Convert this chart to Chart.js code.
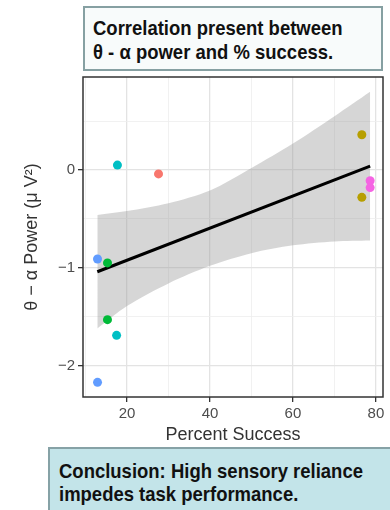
<!DOCTYPE html>
<html>
<head>
<meta charset="utf-8">
<script src="https://cdn.jsdelivr.net/npm/chart.js@4.4.1/dist/chart.umd.min.js"></script>
<style>
  html, body { margin: 0; padding: 0; background: #fff; }
  body { width: 390px; height: 510px; position: relative; overflow: hidden; font-family: "Liberation Sans", Arial, sans-serif; }
  #chart { position: absolute; left: 0; top: 0; }
  .box { position: absolute; box-sizing: border-box; font-weight: bold; font-size: 21px; color: #111; white-space: nowrap; }
  .box .txt { transform: scaleX(0.88); transform-origin: left top; }
  #topBox { left: 83px; top: 6px; width: 300px; height: 65px; border: 2px solid #86a0a2; background: #f8fbfb; padding: 8px 0 0 8px; line-height: 24px; }
  #bottomBox { left: 48px; top: 447px; width: 360px; height: 80px; border: 2px solid #86a2a6; border-right: none; background: #c3e4e9; padding: 10px 0 0 9px; line-height: 23px; }
</style>
</head>
<body>
<canvas id="chart" width="390" height="510"></canvas>
<div class="box" id="topBox"><div class="txt">Correlation present between<br>θ - α power and % success.</div></div>
<div class="box" id="bottomBox"><div class="txt">Conclusion: High sensory reliance<br>impedes task performance.</div></div>
<script>
// one entry per subject
const subjects = ['S1', 'S2', 'S3', 'S4', 'S5', 'S6'];
const successPct = [[27.6], [76.6, 76.6], [15.3, 15.3], [17.7, 17.5], [12.9, 12.9], [78.6, 78.6]];
const thetaAlpha = [[-0.04], [0.36, -0.28], [-0.95, -1.53], [0.05, -1.69], [-0.91, -2.17], [-0.11, -0.18]];

// linear fit and its confidence band
const fitX = [12.85, 78.6];
const fitY = [-1.04, 0.04];
const bandX = [12.85, 20, 30, 40, 50, 60, 70, 78.6];
const bandLow = [-1.62, -1.39, -1.16, -0.98, -0.85, -0.77, -0.73, -0.72];
const bandHigh = [-0.46, -0.42, -0.34, -0.21, 0.02, 0.27, 0.55, 0.80];

const xTicks = [20, 40, 60, 80];
const yTicks = [-2, -1, 0];

const palette = ['#F8766D', '#B79F00', '#00BA38', '#00BFC4', '#619CFF', '#F564E3'];

const pointSets = subjects.map((s, i) => ({
    type: 'scatter',
    label: s,
    data: successPct[i].map((x, j) => ({x: x, y: thetaAlpha[i][j]})),
    backgroundColor: palette[i],
    borderWidth: 0,
    pointRadius: 4.5,
    order: 1
}));

const fitLine = {
    type: 'line',
    label: 'fit',
    data: fitX.map((x, i) => ({x: x, y: fitY[i]})),
    borderColor: '#000',
    borderWidth: 3,
    pointRadius: 0,
    fill: false,
    order: 2
};

const bandUpper = {
    type: 'line',
    label: 'upper',
    data: bandX.map((x, i) => ({x: x, y: bandHigh[i]})),
    borderWidth: 0,
    borderColor: 'rgba(0,0,0,0)',
    backgroundColor: 'rgba(153,153,153,0.4)',
    pointRadius: 0,
    tension: 0.3,
    fill: '+1',
    order: 3
};

const bandLower = {
    type: 'line',
    label: 'lower',
    data: bandX.map((x, i) => ({x: x, y: bandLow[i]})),
    borderWidth: 0,
    borderColor: 'rgba(0,0,0,0)',
    pointRadius: 0,
    tension: 0.3,
    fill: false,
    order: 4
};

// panel border all round
const panelBorder = {
    id: 'panelBorder',
    afterDraw(chart) {
        const a = chart.chartArea;
        const c = chart.ctx;
        c.save();
        c.strokeStyle = '#333';
        c.lineWidth = 1.5;
        c.strokeRect(a.left, a.top, a.right - a.left, a.bottom - a.top);
        c.restore();
    }
};

const gridColor = (isMajor) => isMajor ? '#e3e3e3' : '#eeeeee';

new Chart(document.getElementById('chart'), {
    type: 'scatter',
    data: {datasets: [...pointSets, fitLine, bandUpper, bandLower]},
    plugins: [panelBorder],
    options: {
        responsive: false,
        animation: false,
        devicePixelRatio: 1,
        events: [],
        layout: {padding: {left: 0, right: 7, top: 77, bottom: 63}},
        plugins: {legend: {display: false}, tooltip: {enabled: false}},
        scales: {
            x: {
                type: 'linear',
                min: 9.4,
                max: 81.7,
                afterFit: (s) => { s.height = 50; },
                border: {display: false},
                grid: {
                    color: (c) => gridColor(xTicks.includes(c.tick && c.tick.value)),
                    lineWidth: (c) => xTicks.includes(c.tick && c.tick.value) ? 1.3 : 0.8,
                    tickColor: (c) => xTicks.includes(c.tick && c.tick.value) ? '#333' : 'rgba(0,0,0,0)',
                    tickLength: 5,
                    tickWidth: 1.3
                },
                ticks: {
                    stepSize: 10,
                    includeBounds: false,
                    autoSkip: false,
                    maxRotation: 0,
                    padding: 3,
                    color: '#4d4d4d',
                    font: {family: 'Liberation Sans', size: 15},
                    callback: (v) => xTicks.includes(v) ? String(v) : ''
                },
                title: {
                    display: true,
                    text: 'Percent Success',
                    color: '#333',
                    font: {family: 'Liberation Sans', size: 18},
                    padding: {top: 0, bottom: 1}
                }
            },
            y: {
                type: 'linear',
                min: -2.32,
                max: 0.95,
                afterFit: (s) => { s.width = 83; },
                border: {display: false},
                grid: {
                    color: (c) => gridColor(yTicks.includes(c.tick && c.tick.value)),
                    lineWidth: (c) => yTicks.includes(c.tick && c.tick.value) ? 1.3 : 0.8,
                    tickColor: (c) => yTicks.includes(c.tick && c.tick.value) ? '#333' : 'rgba(0,0,0,0)',
                    tickLength: 5,
                    tickWidth: 1.3
                },
                ticks: {
                    stepSize: 0.5,
                    includeBounds: false,
                    autoSkip: false,
                    padding: 3,
                    color: '#4d4d4d',
                    font: {family: 'Liberation Sans', size: 15},
                    callback: (v) => yTicks.includes(v) ? (v < 0 ? '\u2212' + Math.abs(v) : String(v)) : ''
                },
                title: {
                    display: true,
                    text: 'θ \u2212 α Power (μ V²)',
                    color: '#333',
                    font: {family: 'Liberation Sans', size: 18},
                    padding: {top: 21, bottom: 0}
                }
            }
        }
    }
});
</script>
</body>
</html>
